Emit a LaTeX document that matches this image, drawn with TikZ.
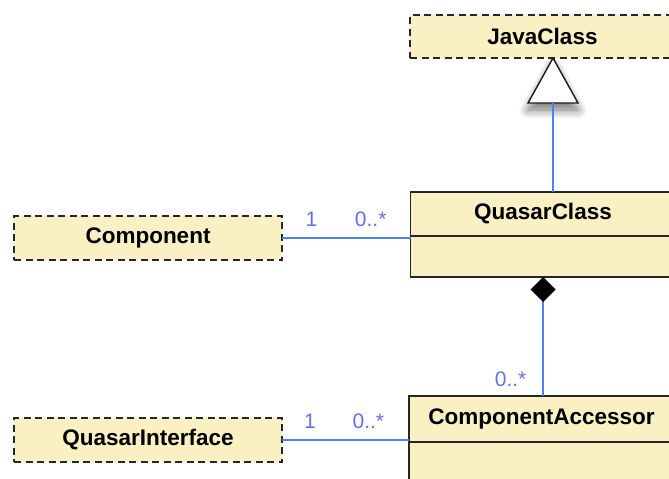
\documentclass[tikz,border=0pt]{standalone}
\usepackage{fontspec}
\setmainfont{Liberation Sans}
\usetikzlibrary{positioning,arrows.meta,shadows.blur}
\definecolor{umlfill}{RGB}{249,240,196}
\definecolor{umlblue}{RGB}{78,128,250}
\definecolor{umltext}{RGB}{96,112,240}

\begin{document}
\begin{tikzpicture}[x=1pt,y=-1pt,
  iface/.style={shape=rectangle,draw=black!85,fill=umlfill,line width=1.4pt,
    dash pattern=on 7pt off 4.5pt,inner sep=0pt,outer sep=0pt,
    font=\fontsize{22.5}{26}\selectfont\bfseries},
  classhead/.style={shape=rectangle,draw=black!85,fill=umlfill,line width=1.6pt,
    minimum width=265pt,inner sep=0pt,outer sep=0pt,
    font=\fontsize{22.5}{26}\selectfont\bfseries},
  classbody/.style={classhead,minimum height=41pt},
  assoc/.style={draw=umlblue,line width=1.3pt},
  mult/.style={text=umltext,inner sep=2pt,font=\fontsize{21}{24}\selectfont}]
\useasboundingbox (0,0) rectangle (669,479);
\clip (0,0) rectangle (669,479);

% generalisation triangle (drawn first, the box hides its shadow)
\coordinate (genapex) at (553,58);
\coordinate (genbase) at (553,103);
\draw [black!90,line width=1.4pt,fill=white,line join=miter,
  blur shadow={shadow xshift=0pt,shadow yshift=-7pt,shadow blur radius=9pt,
    shadow blur steps=12,shadow opacity=55}]
  (genapex) -- (528,103) -- (578,103) -- cycle;

% classes on the right
\path (542.5,36.5) node (jclass) [iface,minimum width=265pt,minimum height=43pt] {JavaClass};
\path (543,214) node (qclass) [classhead,minimum height=44pt] {QuasarClass};
\node (qbody) [classbody,below=0pt of qclass] {};
\path (541.5,419) node (caccess) [classhead,minimum height=46pt] {ComponentAccessor};
\node (cbody) [classbody,minimum height=45pt,below=0pt of caccess] {};

% interfaces on the left
\path (148,238) node (comp) [iface,minimum width=268pt,minimum height=44pt] {Component};
\path (148,440) node (qiface) [iface,minimum width=268pt,minimum height=44pt] {QuasarInterface};

\draw [assoc] (genbase |- qclass.north) -- (genbase);

% composition
\draw [assoc,{Diamond[black,length=25pt,width=25pt]}-] (qbody.south) -- (qbody.south |- caccess.north)
  node [mult,pos=0.86,left=14pt] {0..*};

% associations
\draw [assoc] (comp) -- (comp -| qclass.west)
  node [mult,pos=0.23,above=9pt] {1}
  node [mult,pos=0.69,above=9pt] {0..*};
\draw [assoc] (qiface) -- (qiface -| caccess.west)
  node [mult,pos=0.22,above=9pt] {1}
  node [mult,pos=0.68,above=9pt] {0..*};
\end{tikzpicture}
\end{document}
